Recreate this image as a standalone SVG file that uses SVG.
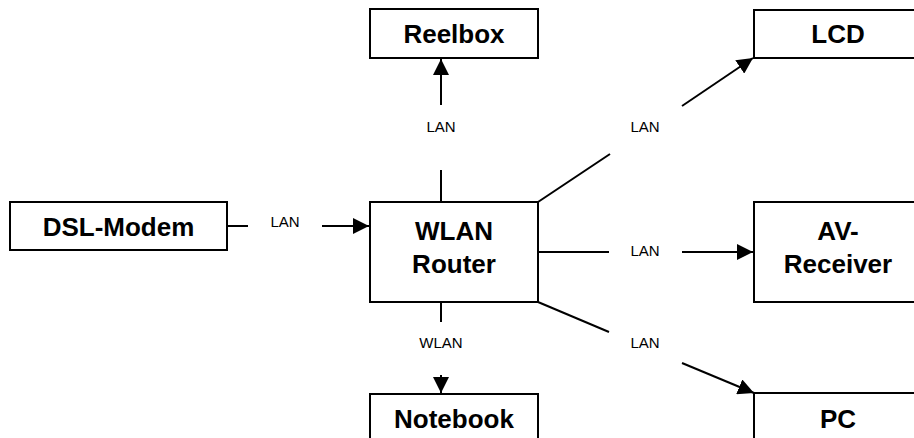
<svg xmlns="http://www.w3.org/2000/svg" width="914" height="438" viewBox="0 0 914 438">
<style>
.box{fill:#fff;stroke:#000;stroke-width:2}
.t{font-family:"Liberation Sans",Arial,sans-serif;font-weight:bold;font-size:26px;text-anchor:middle;fill:#000}
.l{font-family:"Liberation Sans",Arial,sans-serif;font-size:15px;text-anchor:middle;fill:#000}
.c{stroke:#000;stroke-width:2;fill:none}
</style>
<defs>
<marker id="ah" markerUnits="userSpaceOnUse" markerWidth="18" markerHeight="16" refX="16" refY="8" orient="auto">
<path d="M0,0 L16,8 L0,16 Z" fill="#000"/>
</marker>
</defs>
<g id="connectors">
<line class="c" x1="227" y1="226" x2="248" y2="226"/>
<line class="c" x1="322" y1="226" x2="369" y2="226" marker-end="url(#ah)"/>
<line class="c" x1="441" y1="202" x2="441" y2="170"/>
<line class="c" x1="441" y1="105" x2="441" y2="59" marker-end="url(#ah)"/>
<line class="c" x1="538" y1="202" x2="610" y2="154"/>
<line class="c" x1="682" y1="106" x2="753" y2="58" marker-end="url(#ah)"/>
<line class="c" x1="538" y1="252" x2="609" y2="252"/>
<line class="c" x1="682" y1="252" x2="753" y2="252" marker-end="url(#ah)"/>
<line class="c" x1="538" y1="302" x2="609" y2="332"/>
<line class="c" x1="682" y1="363" x2="754" y2="393" marker-end="url(#ah)"/>
<line class="c" x1="441" y1="302" x2="441" y2="322"/>
<line class="c" x1="441" y1="375" x2="441" y2="393" marker-end="url(#ah)"/>
<text class="l" x="285" y="227">LAN</text>
<text class="l" x="441" y="132">LAN</text>
<text class="l" x="645" y="132">LAN</text>
<text class="l" x="645" y="256">LAN</text>
<text class="l" x="645" y="348">LAN</text>
<text class="l" x="441" y="348">WLAN</text>
</g>
<g id="dsl"><rect class="box" x="10" y="202" width="217" height="48"/><text class="t" x="118.5" y="236">DSL-Modem</text></g>
<g id="router"><rect class="box" x="370" y="202" width="168" height="100"/><text class="t" x="454" y="240">WLAN</text><text class="t" x="454" y="273">Router</text></g>
<g id="reelbox"><rect class="box" x="370" y="9" width="168" height="49"/><text class="t" x="454" y="43">Reelbox</text></g>
<g id="lcd"><rect class="box" x="754" y="10" width="168" height="48"/><text class="t" x="838" y="43">LCD</text></g>
<g id="av"><rect class="box" x="754" y="202" width="168" height="100"/><text class="t" x="838" y="240">AV-</text><text class="t" x="838" y="273">Receiver</text></g>
<g id="pc"><rect class="box" x="754" y="393" width="168" height="60"/><text class="t" x="838" y="428">PC</text></g>
<g id="notebook"><rect class="box" x="370" y="394" width="168" height="60"/><text class="t" x="454" y="428">Notebook</text></g>
</svg>
